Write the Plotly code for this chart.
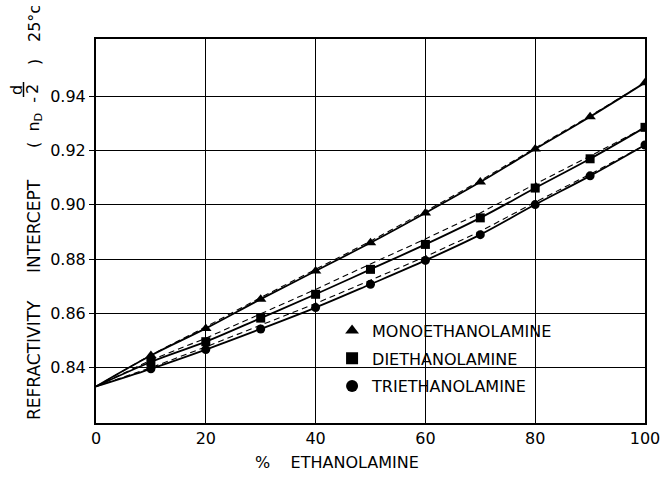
import plotly.graph_objects as go

# ---- data ----
pct_line = [0, 10, 20, 30, 40, 50, 60, 70, 80, 90, 100]
pct_pts = [10, 20, 30, 40, 50, 60, 70, 80, 90, 100]

mono_pts = [0.8444, 0.8544, 0.8652, 0.8756, 0.8860, 0.8970, 0.9084, 0.9206, 0.9325, 0.9451]
di_pts = [0.8420, 0.8495, 0.8582, 0.8670, 0.8762, 0.8854, 0.8952, 0.9062, 0.9170, 0.9286]
tri_pts = [0.8395, 0.8466, 0.8542, 0.8621, 0.8707, 0.8795, 0.8890, 0.9001, 0.9107, 0.9221]

mono_solid = [0.8330] + mono_pts
di_solid = [0.8330] + di_pts
tri_solid = [0.8330] + tri_pts

mono_dash = [0.8330, 0.8446, 0.8550, 0.8658, 0.8762, 0.8866, 0.8976, 0.9089, 0.9210, 0.9328, 0.9451]
di_dash = [0.8330, 0.8427, 0.8508, 0.8597, 0.8688, 0.8782, 0.8874, 0.8970, 0.9077, 0.9180, 0.9286]
tri_dash = [0.8330, 0.8399, 0.8476, 0.8555, 0.8636, 0.8722, 0.8809, 0.8902, 0.9010, 0.9113, 0.9221]

names = ["MONOETHANOLAMINE", "DIETHANOLAMINE", "TRIETHANOLAMINE"]
symbols = ["triangle-up", "square", "circle"]
x_ticks = [0, 20, 40, 60, 80, 100]
y_ticks = [0.84, 0.86, 0.88, 0.90, 0.92, 0.94]

FONT = "DejaVu Sans"
fig = go.Figure()

for solid, dash in [(mono_solid, mono_dash), (di_solid, di_dash), (tri_solid, tri_dash)]:
    fig.add_trace(go.Scatter(x=pct_line, y=dash, mode="lines", showlegend=False,
                             line=dict(color="black", width=1.1, dash="6px,4px"), hoverinfo="skip"))
    fig.add_trace(go.Scatter(x=pct_line, y=solid, mode="lines", showlegend=False,
                             line=dict(color="black", width=1.8, shape="spline"), hoverinfo="skip"))

sizes = [10, 9, 9]
for i, pts in enumerate([mono_pts, di_pts, tri_pts]):
    fig.add_trace(go.Scatter(x=pct_pts, y=pts, mode="markers", name=names[i],
                             legendgroup=names[i],
                             marker=dict(symbol=symbols[i], color="black", size=sizes[i])))

fig.update_layout(
    width=665, height=477,
    margin=dict(l=96, r=20, t=39, b=54),
    paper_bgcolor="white", plot_bgcolor="white",
    font=dict(family=FONT, size=16, color="black"),
    showlegend=True,
    legend=dict(x=0.43, xanchor="left", y=0.285, yanchor="top",
                bgcolor="rgba(0,0,0,0)", tracegroupgap=4,
                font=dict(family=FONT, size=16, color="black"),
                itemsizing="constant"),
    xaxis=dict(range=[0, 100], tickvals=x_ticks, ticktext=[str(v) for v in x_ticks],
               showgrid=True, gridcolor="black", gridwidth=1,
               showline=True, linecolor="black", linewidth=2, mirror=True,
               ticks="", zeroline=False, tickfont=dict(size=16), automargin=False),
    yaxis=dict(range=[0.8195, 0.9612], tickvals=y_ticks, ticktext=["%.2f" % v for v in y_ticks],
               showgrid=True, gridcolor="black", gridwidth=1,
               showline=True, linecolor="black", linewidth=2, mirror=True,
               ticks="outside", ticklen=5, tickcolor="black", zeroline=False,
               tickfont=dict(size=16), automargin=False),
)

def px_x(px):
    return (px - 96) / 549.0

def px_y(py):
    return (423 - py) / 384.0

anns = [
    ("REFRACTIVITY", 34, 360, 17),
    ("INTERCEPT", 34, 226, 17),
    ("(  n<sub>D</sub>  -", 34, 123, 16),
    ("2", 32, 89, 16),
    (")", 34, 62, 16),
    ("25°c", 34, 24, 16),
]
for text, x, y, fs in anns:
    fig.add_annotation(text=text, x=px_x(x), y=px_y(y), xref="paper", yref="paper",
                       xanchor="center", yanchor="middle", textangle=-90, showarrow=False,
                       font=dict(family=FONT, size=fs, color="black"))
fig.add_annotation(text="d", x=px_x(16), y=px_y(90), xref="paper", yref="paper",
                   xanchor="center", yanchor="middle", textangle=-90, showarrow=False,
                   font=dict(family=FONT, size=16, color="black"))
fig.add_shape(type="line", xref="paper", yref="paper",
              x0=px_x(23.5), x1=px_x(23.5), y0=px_y(82), y1=px_y(97),
              line=dict(color="black", width=1.5))

fig.add_annotation(text="%    ETHANOLAMINE", x=px_x(337), y=px_y(462), xref="paper", yref="paper",
                   xanchor="center", yanchor="middle", showarrow=False,
                   font=dict(family=FONT, size=16, color="black"))

fig.write_html("out.html", config={"displayModeBar": False},
               post_script="document.body.style.margin='0';document.body.style.overflow='hidden';")
